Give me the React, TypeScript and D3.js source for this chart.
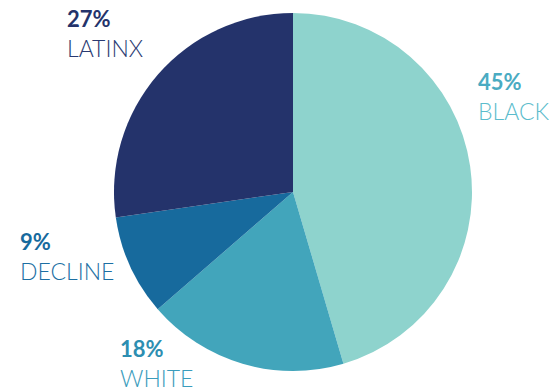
import React from "react";
import * as d3 from "d3";

const categories = ["BLACK", "WHITE", "DECLINE", "LATINX"];
const values = [45, 18, 9, 27];
const sliceColors = ["#8ed3cd", "#42a5bb", "#176a9d", "#24336b"];
const pctColors = ["#4aabc2", "#2d8eb1", "#176a9d", "#24336b"];
const nameColors = ["#5bbccc", "#3a9cbc", "#1c6fa3", "#2a3a72"];

const W = 549, H = 392;
const cx = 293, cy = 192, R = 179;
// label anchor positions (x, baseline of percent)
const labelPos: [number, number][] = [
  [478, 90],
  [120, 357],
  [20, 250],
  [67, 27],
];

export default function App() {
  const pie = d3.pie<number>().sort(null).value((d) => d)(values);
  const arc = d3.arc<d3.PieArcDatum<number>>().innerRadius(0).outerRadius(R);
  return (
    <svg width={W} height={H} style={{ position: "absolute", left: 0, top: 0 }}>
      <g transform={`translate(${cx},${cy})`}>
        {pie.map((d, i) => (
          <path key={i} d={arc(d) || ""} fill={sliceColors[i]} />
        ))}
      </g>
      {categories.map((c, i) => (
        <g key={c} fontFamily="Lato, 'Open Sans', sans-serif">
          <text x={labelPos[i][0]} y={labelPos[i][1]} fill={pctColors[i]} fontWeight={700} fontSize={22}>
            {values[i]}%
          </text>
          <text x={labelPos[i][0]} y={labelPos[i][1] + 30} fill={nameColors[i]} fontWeight={300} fontSize={23}>
            {c}
          </text>
        </g>
      ))}
    </svg>
  );
}
